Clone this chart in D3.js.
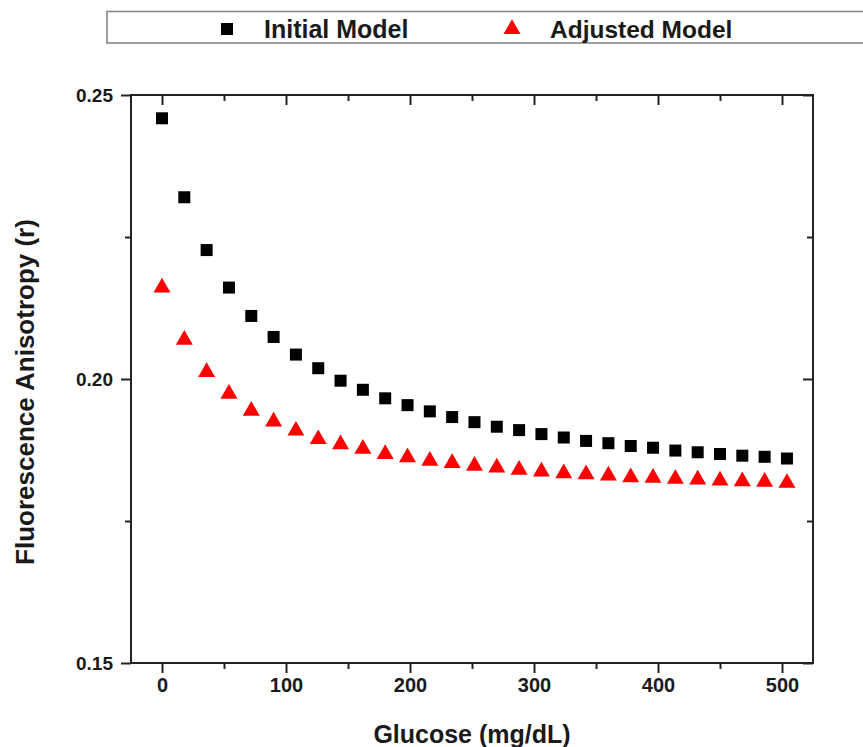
<!DOCTYPE html>
<html>
<head>
<meta charset="utf-8">
<script src="https://cdn.jsdelivr.net/npm/d3@7"></script>
<style>
  body { margin: 0; background: #fff; }
  svg text { font-family: "Liberation Sans", Arial, sans-serif; font-weight: bold; fill: #1a1a1a; }
</style>
</head>
<body>
<div id="chart"></div>
<script>
// glucose steps of 18 mg/dL (1 mM)
const glucose = d3.range(0, 29).map(i => i * 18);
const initialModel = [0.2459, 0.2320, 0.2227, 0.2161, 0.2111, 0.2074, 0.2043, 0.2019, 0.1997, 0.1981,
  0.1966, 0.1954, 0.1943, 0.1933, 0.1924, 0.1916, 0.1910, 0.1903, 0.1897, 0.1891,
  0.1887, 0.1882, 0.1879, 0.1874, 0.1871, 0.1868, 0.1865, 0.1863, 0.1860];
const adjustedModel = [0.2161, 0.2069, 0.2012, 0.1974, 0.1944, 0.1925, 0.1909, 0.1894, 0.1885, 0.1877,
  0.1868, 0.1862, 0.1856, 0.1852, 0.1847, 0.1844, 0.1840, 0.1837, 0.1834, 0.1832,
  0.1830, 0.1827, 0.1826, 0.1824, 0.1823, 0.1821, 0.1820, 0.1819, 0.1817];
const xMajor = [0, 100, 200, 300, 400, 500];
const xMinor = [50, 150, 250, 350, 450];
const yMajor = [0.15, 0.20, 0.25];
const yMinor = [0.175, 0.225];

const W = 863, H = 747;
const svg = d3.select('#chart').append('svg').attr('width', W).attr('height', H);

const x = d3.scaleLinear().domain([-25, 525]).range([131, 813]);
const y = d3.scaleLinear().domain([0.15, 0.25]).range([663, 95]);

function styleAxis(g, size) {
  g.select('.domain').remove();
  g.selectAll('line').attr('stroke', '#222').attr('stroke-width', 2);
  g.selectAll('text').style('font-size', (size || 18) + 'px').attr('fill', '#1a1a1a');
}

// bottom axis (outward ticks)
svg.append('g').attr('transform', 'translate(0,663)')
  .call(d3.axisBottom(x).tickValues(xMajor).tickSize(10).tickPadding(5).tickFormat(d3.format('d')))
  .call(styleAxis, 20);
svg.append('g').attr('transform', 'translate(0,663)')
  .call(d3.axisBottom(x).tickValues(xMinor).tickSize(6).tickFormat(''))
  .call(styleAxis);
// top axis (inward ticks)
svg.append('g').attr('transform', 'translate(0,95)')
  .call(d3.axisBottom(x).tickValues(xMajor).tickSize(10).tickFormat(''))
  .call(styleAxis);
svg.append('g').attr('transform', 'translate(0,95)')
  .call(d3.axisBottom(x).tickValues(xMinor).tickSize(6).tickFormat(''))
  .call(styleAxis);
// left axis (outward ticks)
svg.append('g').attr('transform', 'translate(131,0)')
  .call(d3.axisLeft(y).tickValues(yMajor).tickSize(10).tickPadding(8).tickFormat(d3.format('.2f')))
  .call(styleAxis, 19);
svg.append('g').attr('transform', 'translate(131,0)')
  .call(d3.axisLeft(y).tickValues(yMinor).tickSize(6).tickFormat(''))
  .call(styleAxis);
// right axis (inward ticks)
svg.append('g').attr('transform', 'translate(813,0)')
  .call(d3.axisLeft(y).tickValues(yMajor).tickSize(10).tickFormat(''))
  .call(styleAxis);
svg.append('g').attr('transform', 'translate(813,0)')
  .call(d3.axisLeft(y).tickValues(yMinor).tickSize(6).tickFormat(''))
  .call(styleAxis);

// frame
svg.append('rect')
  .attr('x', x(-25)).attr('y', y(0.25))
  .attr('width', x(525) - x(-25)).attr('height', y(0.15) - y(0.25))
  .attr('fill', 'none').attr('stroke', '#222').attr('stroke-width', 2);

// points
const sq = 12;
svg.append('g').selectAll('rect')
  .data(glucose)
  .join('rect')
  .attr('x', (d, i) => x(d) - sq / 2)
  .attr('y', (d, i) => y(initialModel[i]) - sq / 2)
  .attr('width', sq).attr('height', sq)
  .attr('fill', '#000');

const tri = d3.symbol().type(d3.symbolTriangle).size(125);
svg.append('g').selectAll('path')
  .data(glucose)
  .join('path')
  .attr('d', tri)
  .attr('transform', (d, i) => `translate(${x(d)},${y(adjustedModel[i])})`)
  .attr('fill', '#f00');

// axis titles
svg.append('text')
  .attr('x', 472).attr('y', 743)
  .attr('text-anchor', 'middle')
  .style('font-size', '25px')
  .text('Glucose (mg/dL)');

svg.append('text')
  .attr('transform', 'translate(34,392) rotate(-90)')
  .attr('text-anchor', 'middle')
  .style('font-size', '26px')
  .text('Fluorescence Anisotropy (r)');

// legend
svg.append('rect')
  .attr('x', 107).attr('y', 11.5)
  .attr('width', 800).attr('height', 31.5)
  .attr('fill', '#fff').attr('stroke', '#888').attr('stroke-width', 1.6);

svg.append('rect')
  .attr('x', 227 - sq / 2).attr('y', 29 - sq / 2)
  .attr('width', sq).attr('height', sq).attr('fill', '#000');
svg.append('text')
  .attr('x', 264).attr('y', 37.5)
  .style('font-size', '25px')
  .text('Initial Model');

svg.append('path')
  .attr('d', tri)
  .attr('transform', 'translate(512,29)')
  .attr('fill', '#f00');
svg.append('text')
  .attr('x', 550).attr('y', 37.5)
  .style('font-size', '24.5px')
  .text('Adjusted Model');
</script>
</body>
</html>
